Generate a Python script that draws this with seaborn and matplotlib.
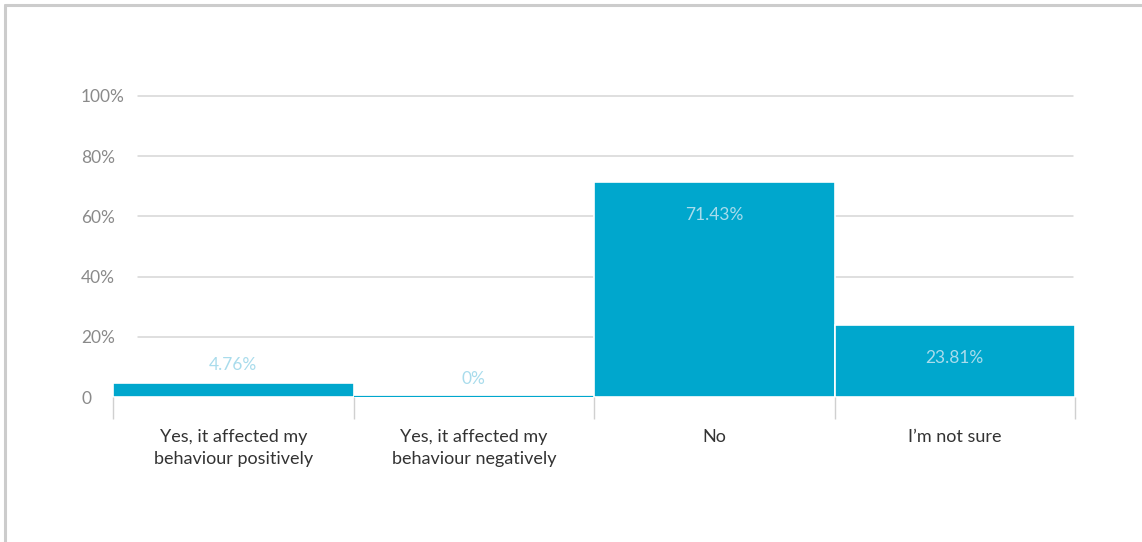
import matplotlib
matplotlib.use("Agg")
import matplotlib.pyplot as plt
from matplotlib.lines import Line2D
import pandas as pd
import seaborn as sns

# --- data ---
CATEGORIES = [
    "Yes, it affected my\nbehaviour positively",
    "Yes, it affected my\nbehaviour negatively",
    "No",
    "I\u2019m not sure",
]
PERCENTS = [4.76, 0.0, 71.43, 23.81]
VALUE_LABELS = ["4.76%", "0%", "71.43%", "23.81%"]
Y_TICKS = [0, 20, 40, 60, 80, 100]
Y_TICK_LABELS = ["0", "20%", "40%", "60%", "80%", "100%"]

BAR_COLOR = "#00a7cd"
LABEL_COLOR = "#a9dcec"
GRID_COLOR = "#d6d6d6"

sns.set_theme(style="white")
plt.rcParams["font.family"] = ["Lato", "DejaVu Sans"]

df = pd.DataFrame({"category": CATEGORIES, "percent": PERCENTS})

fig = plt.figure(figsize=(11.42, 5.42), dpi=100)
ax = fig.add_axes([113 / 1142, 1 - 397 / 542, (1075 - 113) / 1142, (397 - 96) / 542])

# gridlines (start a little right of the axis, as in the source)
for t in Y_TICKS[1:]:
    ax.axhline(t, xmin=0.026, xmax=0.998, color=GRID_COLOR, linewidth=1.1,
               zorder=0, clip_on=False)

sns.barplot(data=df, x="category", y="percent", color=BAR_COLOR, width=1.0,
            saturation=1, edgecolor="white", linewidth=1.2, ax=ax, zorder=2)

# a zero bar still shows as a thin line
for patch, val in zip(ax.patches, PERCENTS):
    if val == 0:
        patch.set_edgecolor(BAR_COLOR)
        patch.set_linewidth(1.6)

# value labels: above short bars, inside tall ones
for i, (val, lab) in enumerate(zip(PERCENTS, VALUE_LABELS)):
    if val < 10:
        ax.annotate(lab, (i, val), xytext=(0, 7), textcoords="offset points",
                    ha="center", va="bottom", fontsize=12.5, color=LABEL_COLOR, zorder=3)
    else:
        ax.annotate(lab, (i, val), xytext=(0, -18), textcoords="offset points",
                    ha="center", va="top", fontsize=12.5, color=LABEL_COLOR, zorder=3)

ax.set_xlim(-0.5, 3.5)
ax.set_ylim(0, 100)
ax.set_xlabel("")
ax.set_ylabel("")
sns.despine(ax=ax, left=True, bottom=True)

ax.set_yticks(Y_TICKS)
ax.set_yticklabels(Y_TICK_LABELS, fontsize=12.5, color="#8a8a8a")
ax.tick_params(axis="y", length=0, pad=23)
for lbl in ax.get_yticklabels():
    lbl.set_horizontalalignment("left")

# category labels and boundary ticks
ax.set_xticks(range(len(CATEGORIES)))
ax.set_xticklabels(CATEGORIES, fontsize=13, color="#333333", linespacing=1.5)
ax.tick_params(axis="x", which="major", length=0, pad=23)
ax.set_xticks([i - 0.5 for i in range(len(CATEGORIES) + 1)], minor=True)
ax.tick_params(axis="x", which="minor", length=16, width=1, color="#d0d0d0",
               direction="out", bottom=True)
ax.grid(False)

# frame of the picture (top and left edges only)
fig.add_artist(Line2D([0.0048, 0.0048], [0, 0.9905], color="#cccccc", linewidth=2.2))
fig.add_artist(Line2D([0.0048, 1], [0.9905, 0.9905], color="#cccccc", linewidth=2.2))

fig.savefig("out.png", dpi=100)
